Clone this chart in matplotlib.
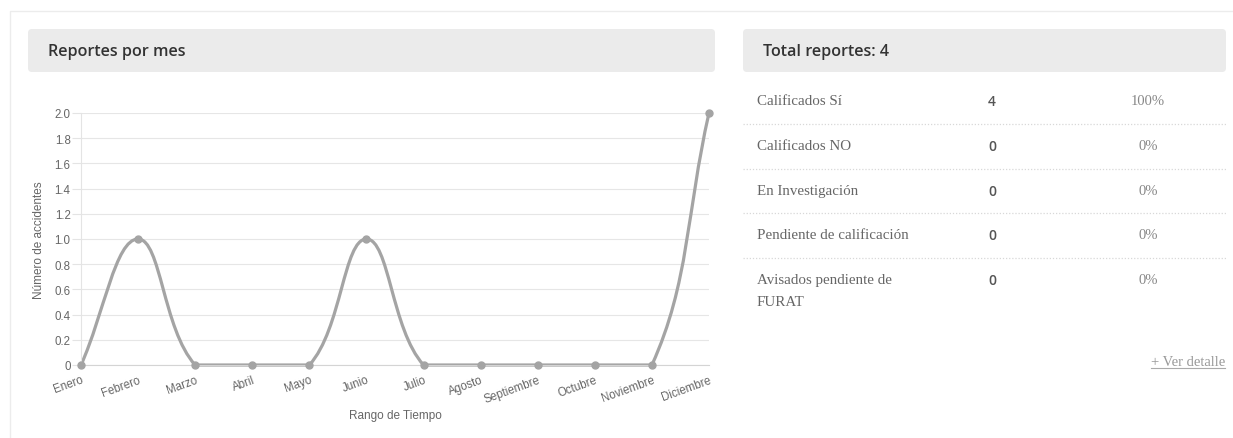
import numpy as np
import matplotlib
matplotlib.use("Agg")
import matplotlib.pyplot as plt
from matplotlib.path import Path
from matplotlib.patches import PathPatch, FancyBboxPatch, Rectangle

# ---------------- data ----------------
months = ["Enero", "Febrero", "Marzo", "Abril", "Mayo", "Junio", "Julio",
          "Agosto", "Septiembre", "Octubre", "Noviembre", "Diciembre"]
reports = [0, 1, 0, 0, 0, 1, 0, 0, 0, 0, 0, 2]
y_ticks = [0, 0.2, 0.4, 0.6, 0.8, 1.0, 1.2, 1.4, 1.6, 1.8, 2.0]
y_tick_labels = ["0", "0.2", "0.4", "0.6", "0.8", "1.0", "1.2", "1.4", "1.6", "1.8", "2.0"]

total_reportes = 4
table_labels = ["Calificados Sí", "Calificados NO", "En Investigación",
                "Pendiente de calificación", "Avisados pendiente de\nFURAT"]
table_counts = [4, 0, 0, 0, 0]
table_pcts = ["100%", "0%", "0%", "0%", "0%"]

# ---------------- figure ----------------
W, H = 1233, 439
fig = plt.figure(figsize=(W / 100, H / 100), dpi=100)
fig.patch.set_facecolor("white")

# background overlay in pixel coordinates
bg = fig.add_axes([0, 0, 1, 1], zorder=0)
bg.set_xlim(0, W)
bg.set_ylim(H, 0)
bg.axis("off")

# outer card
bg.add_patch(Rectangle((9.5, 11.5), W + 10, H + 10, facecolor="white",
                       edgecolor="#ececec", linewidth=1.0))
# header boxes
for (x0, x1) in [(28, 715), (743, 1226)]:
    bg.add_patch(FancyBboxPatch((x0, 30), x1 - x0, 43,
                                boxstyle="round,pad=0,rounding_size=4",
                                facecolor="#ebebeb", edgecolor="none"))
bg.text(48, 52, "Reportes por mes", fontsize=11.6, family="Open Sans",
        fontweight="semibold", color="#333333", va="center", ha="left")
bg.text(763, 52, f"Total reportes: {total_reportes}", fontsize=11.6,
        family="Open Sans", fontweight="semibold", color="#333333",
        va="center", ha="left")

# table
row_y = [102, 147, 192, 236, 281]
sep_y = [124.5, 169.5, 213.5, 258.5]
line_gap = 22
for lab, cnt, pct, yy in zip(table_labels, table_counts, table_pcts, row_y):
    for k, part in enumerate(lab.split("\n")):
        bg.text(757, yy + k * line_gap, part, fontsize=10.8, family="Liberation Serif",
                color="#666666", va="center", ha="left")
    bg.text(992, yy, str(cnt), fontsize=10, family="Open Sans", fontweight="semibold",
            color="#555555", va="center", ha="center")
    bg.text(1148, yy, pct, fontsize=10.5, family="Liberation Serif", color="#888888",
            va="center", ha="center")
for yy in sep_y:
    bg.plot([743, 1226], [yy, yy], color="#d8d8d8", linewidth=0.9,
            linestyle=(0, (1, 1.5)))
link = bg.text(1225, 363, "+ Ver detalle", fontsize=10.5, family="Liberation Serif",
               color="#999999", va="center", ha="right")

# ---------------- chart ----------------
ax_l, ax_r, ax_t, ax_b = 81, 709, 114, 366
ax = fig.add_axes([ax_l / W, 1 - ax_b / H, (ax_r - ax_l) / W, (ax_b - ax_t) / H],
                  zorder=1)
ax.patch.set_alpha(0)
x = np.arange(len(months))
y = np.array(reports, dtype=float)
ax.set_xlim(0, len(months) - 1)
ax.set_ylim(0, 2)

# Chart.js-like bezier spline (tension 0.4), computed in pixel proportions
sx = (ax_r - ax_l) / (len(months) - 1)
sy = (ax_b - ax_t) / 2.0
px, py = x * sx, y * sy
t = 0.4
cps = []
n = len(x)
for i in range(n):
    p0 = i - 1 if i > 0 else i
    p2 = i + 1 if i < n - 1 else i
    d01 = np.hypot(px[i] - px[p0], py[i] - py[p0])
    d12 = np.hypot(px[p2] - px[i], py[p2] - py[i])
    tot = d01 + d12
    s01 = d01 / tot if tot else 0
    s12 = d12 / tot if tot else 0
    fa, fb = t * s01, t * s12
    cpp = (px[i] - fa * (px[p2] - px[p0]), py[i] - fa * (py[p2] - py[p0]))
    cpn = (px[i] + fb * (px[p2] - px[p0]), py[i] + fb * (py[p2] - py[p0]))
    cps.append((cpp, cpn))

def to_data(p):
    xx = min(max(p[0] / sx, 0), n - 1)
    yy = min(max(p[1] / sy, 0), 2)
    return (xx, yy)

verts = [(x[0], y[0])]
codes = [Path.MOVETO]
for i in range(n - 1):
    verts += [to_data(cps[i][1]), to_data(cps[i + 1][0]), (x[i + 1], y[i + 1])]
    codes += [Path.CURVE4] * 3
line_color = "#a4a4a4"
ax.add_patch(PathPatch(Path(verts, codes), facecolor="none", edgecolor=line_color,
                       linewidth=2.3, clip_on=False, capstyle="round", joinstyle="round"))
ax.plot(x, y, linestyle="none", marker="o", markersize=5, color=line_color,
        clip_on=False, zorder=3)

# axes styling
for s in ["top", "right"]:
    ax.spines[s].set_visible(False)
ax.spines["left"].set_color("#e4e4e4")
ax.spines["bottom"].set_color("#d4d4d4")
ax.set_yticks(y_ticks)
ax.set_yticklabels(y_tick_labels, family="Liberation Sans", fontsize=8.3, color="#666666")
ax.tick_params(axis="y", length=6.5, color="#e4e4e4", pad=1)
ax.yaxis.grid(True, color="#e6e6e6", linewidth=0.8)
ax.set_axisbelow(True)
ax.set_xticks(x)
ax.set_xticklabels(months, family="Liberation Sans", fontsize=8.3, color="#666666",
                   rotation=20, ha="right", rotation_mode="anchor")
ax.tick_params(axis="x", length=0, pad=6)
ax.set_ylabel("Número de accidentes", family="Liberation Sans", fontsize=8.5,
              color="#666666")
ax.yaxis.set_label_coords(-(ax_l - 45) / (ax_r - ax_l), 0.5)
ax.set_xlabel("Rango de Tiempo", family="Liberation Sans", fontsize=8.5,
              color="#666666", labelpad=3)

# underline for the link, measured from the rendered text
fig.canvas.draw()
bb = link.get_window_extent()
inv = bg.transData.inverted()
(lx0, ly0), (lx1, ly1) = inv.transform([(bb.x0, bb.y0), (bb.x1, bb.y1)])
bg.plot([lx0, lx1], [ly0 - 1, ly0 - 1], color="#aaaaaa", linewidth=0.8)

fig.savefig("out.png", dpi=100)
